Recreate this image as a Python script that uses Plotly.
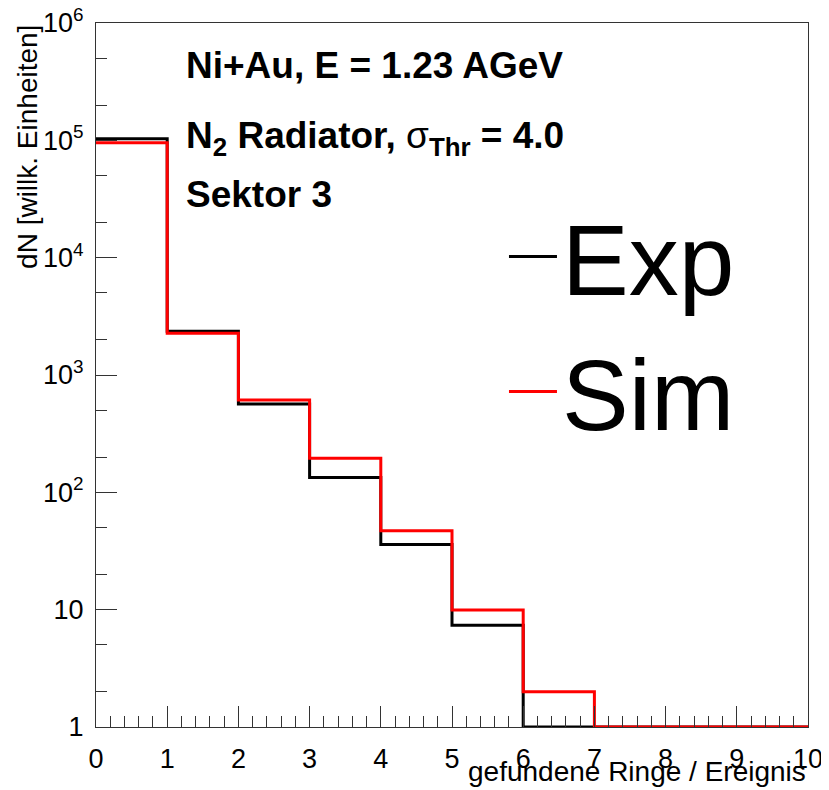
import plotly.graph_objects as go

# bin edges 0..10 (found rings / event)
bin_edges = [0, 1, 2, 3, 4, 5, 6, 7, 8, 9, 10]
exp_counts = [103300, 2357, 566, 134, 35.9, 7.37, 1, 1, 1, 1]
sim_counts = [95500, 2266, 612, 195, 47.1, 9.94, 2.0, 1, 1, 1]

y_tickvals = [1, 10, 100, 1000, 10000, 100000, 1000000]
y_ticktext = ["1", "10", "10<sup>2</sup>", "10<sup>3</sup>", "10<sup>4</sup>",
              "10<sup>5</sup>", "10<sup>6</sup>"]
x_tickvals = list(range(0, 11))

FONT = "Liberation Sans, Arial, Helvetica, sans-serif"

def steps(vals):
    return vals + [vals[-1]]

fig = go.Figure()
fig.add_trace(go.Scatter(x=bin_edges, y=steps(exp_counts), mode="lines",
                         line=dict(color="black", width=3, shape="hv"),
                         name="Exp", legendgroup="exp"))
fig.add_trace(go.Scatter(x=bin_edges, y=steps(sim_counts), mode="lines",
                         line=dict(color="#ff0000", width=3, shape="hv"),
                         name="Sim", legendgroup="sim"))

# page body has an 8px margin; figure fills the rest of the window
fig.update_layout(
    width=821, height=782,
    margin=dict(l=88, r=21, t=15, b=63, autoexpand=False),
    paper_bgcolor="white", plot_bgcolor="white",
    font=dict(family=FONT, size=26, color="black"),
    showlegend=True,
    legend=dict(x=0.573, y=0.770, xanchor="left", yanchor="top",
                bgcolor="rgba(0,0,0,0)", font=dict(size=100, family=FONT),
                tracegroupgap=2, itemwidth=48),
)

fig.update_xaxes(
    range=[0, 10], tickvals=x_tickvals, ticks="inside", ticklen=21,
    tickwidth=1, tickcolor="#333", showline=True, linecolor="#333",
    linewidth=1, mirror=True, showgrid=False, zeroline=False,
    automargin=False, ticklabelstandoff=8, ticklabeloverflow="allow",
    minor=dict(ticks="inside", ticklen=11, dtick=0.2, tickcolor="#333",
               showgrid=False),
    tickfont=dict(size=27),
)
fig.update_yaxes(
    type="log", range=[0, 6], tickvals=y_tickvals, ticktext=y_ticktext,
    ticks="inside", ticklen=21, tickwidth=1, tickcolor="#333",
    showline=True, linecolor="#333", linewidth=1, mirror=True,
    showgrid=False, zeroline=False, automargin=False, ticklabelstandoff=6,
    ticklabeloverflow="allow",
    minor=dict(ticks="inside", ticklen=11, tickcolor="#333", showgrid=False),
    tickfont=dict(size=27),
)

# axis titles (ROOT style: aligned to the axis ends)
fig.add_annotation(text="gefundene Ringe / Ereignis", x=1.0, xref="paper",
                   y=-0.0885, yref="paper", xanchor="right", yanchor="bottom",
                   showarrow=False, font=dict(size=28, family=FONT))
fig.add_annotation(text="dN [willk. Einheiten]", x=-0.097, xref="paper",
                   y=1.0, yref="paper", xanchor="center", yanchor="top",
                   textangle=-90, showarrow=False,
                   font=dict(size=28, family=FONT))

annots = [
    ("<b>Ni+Au, E = 1.23 AGeV</b>", 0.939),
    ("<b>N<sub>2</sub> Radiator, </b>σ<sub><b>Thr</b></sub><b> = 4.0</b>", 0.837),
    ("<b>Sektor 3</b>", 0.756),
]
for txt, yy in annots:
    fig.add_annotation(text=txt, x=1.23, xref="x", y=yy, yref="paper",
                       xanchor="left", yanchor="middle", showarrow=False,
                       font=dict(size=37, family=FONT, color="black"))

fig.write_html("out.html")
